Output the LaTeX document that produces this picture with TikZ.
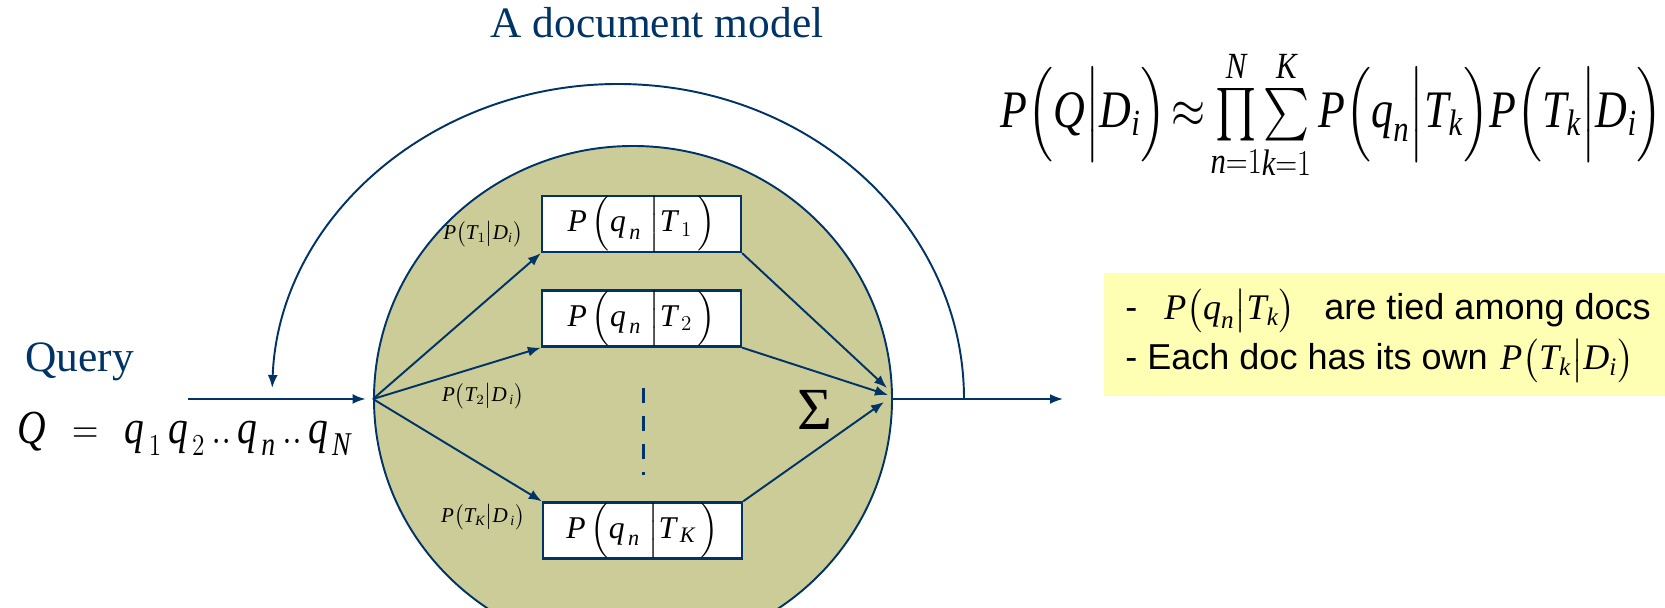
\documentclass[tikz,border=0pt]{standalone}
\usepackage{amsmath}
\usepackage{graphicx}
\usepackage{fontspec}
\setmainfont{Liberation Serif}
\newfontfamily\arialfont{Liberation Sans}
\usepackage{xcolor}
\usetikzlibrary{shapes.geometric,arrows.meta}
\definecolor{navy}{RGB}{0,51,102}
\definecolor{khaki}{RGB}{204,204,153}
\definecolor{paleyellow}{RGB}{255,255,179}
\newcommand{\iv}[1]{\text{\normalfont\itshape #1}}
\newcommand{\tall}[1]{\scalebox{1}[1.2]{#1}}

\begin{document}
\begin{tikzpicture}[x=0.2mm,y=0.2mm,
  link/.style={navy,line width=1.1pt,-{Latex[length=2.6mm,width=2mm]}},
  probbox/.style={draw=navy,line width=1.3pt,fill=white,minimum width=39.8mm,minimum height=11.2mm,inner sep=0pt,font=\fontsize{18}{22}\selectfont},
  weight/.style={inner sep=0pt,font=\fontsize{12}{14}\selectfont},
  heading/.style={text=navy,inner sep=0pt,anchor=base west,font=\fontsize{24.7}{30}\selectfont},
  tiedtext/.style={anchor=base west,inner sep=0pt,font=\arialfont\fontsize{20.5}{24}\selectfont}]
\useasboundingbox (0,0) rectangle (1665,607);
\clip (0,0) rectangle (1665,607);
%\draw[help lines,step=50](0,0)grid(1665,607);

\node[heading,anchor=base] (title) at (657,569) {A document model};
\node[heading] (query) at (25,235) {Query};
\node[anchor=base west,inner sep=0pt,font=\fontsize{22.5}{26}\selectfont] (qseq) at (17,163)
  {\tall{$\iv{Q}\;\,=\;\,\iv{q}_{\,1}\,\iv{q}_{\,2}\,..\,\iv{q}_{\,\iv{n}}\,..\,\iv{q}_{\,\iv{N}}$}};

% the document
\node[ellipse,draw=navy,line width=1.1pt,fill=khaki,minimum width=103.6mm,minimum height=101.2mm,inner sep=0pt] (doc) at (633,208) {};

\node[probbox] (b1) at (641.5,383) {$\iv{P}\,\Bigl(\iv{q}_{\,\iv{n}}\;\Big|\iv{T}_{\,1}\,\Bigr)$};
\node[probbox] (b2) at (641.5,288.5) {$\iv{P}\,\Bigl(\iv{q}_{\,\iv{n}}\;\Big|\iv{T}_{\,2}\,\Bigr)$};
\node[probbox] (bk) at (642.5,76.5) {$\iv{P}\,\Bigl(\iv{q}_{\,\iv{n}}\;\Big|\iv{T}_{\,\iv{K}}\,\Bigr)$};

\node[weight] (w1) at (483,373) {$\iv{P}\bigl(\iv{T}_1\big|\iv{D}_{\iv{i}}\bigr)$};
\node[weight] (w2) at (483,211) {$\iv{P}\bigl(\iv{T}_2\big|\iv{D}_{\,\iv{i}}\bigr)$};
\node[weight] (wk) at (483,90) {$\iv{P}\bigl(\iv{T}_{\iv{K}}\big|\iv{D}_{\,\iv{i}}\bigr)$};

\coordinate (dtop) at (643,219);
\coordinate (dbot) at (643,132);
\draw[navy,line width=0.6mm,dash pattern=on 3mm off 2.6mm] (dtop) -- (dbot);
\node[inner sep=0pt,font=\fontsize{34}{40}\selectfont] (sigma) at (815,197) {Σ};

\draw[link] (doc.west) -- (b1.south west);
\draw[link] (doc.west) -- (b2.south west);
\draw[link] (doc.west) -- (bk.north west);
\coordinate (s1) at (887,219);
\coordinate (s2) at (888,212);
\coordinate (s3) at (884,205);
\draw[link] (b1.south east) -- (s1);
\draw[link] (b2.south east) -- (s2);
\draw[link] (bk.north east) -- (s3);

% in, out and back
\coordinate (qin) at (188,208);
\coordinate (qout) at (1063,208);
\coordinate (turn) at (964,208);
\draw[link,shorten >=1.5mm] (qin) -- (doc.west);
\draw[link] (doc.east) -- (qout);
\draw[link] (turn) arc[start angle=0,end angle=178,x radius=346,y radius=315];

\node[anchor=base west,inner sep=0pt,font=\fontsize{25}{30}\selectfont] (model) at (1000,479)
  {\tall{$\iv{P}\Bigl(\iv{Q}\Big|\iv{D}_{\iv{i}}\Bigr)\!\approx\!\prod\limits_{\iv{n}=1}^{\iv{N}}\!\sum\limits_{\iv{k}=1}^{\iv{K}}\iv{P}\Bigl(\iv{q}_{\iv{n}}\Big|\iv{T}_{\iv{k}}\Bigr)\iv{P}\Bigl(\iv{T}_{\iv{k}}\Big|\iv{D}_{\iv{i}}\Bigr)$}};

\node[fill=paleyellow,anchor=south west,minimum width=112.2mm,minimum height=24.6mm,inner sep=0pt] (note) at (1104,211) {};
\node[tiedtext] (tied) at (1125,287)
  {-\hspace{0.75em}$\iv{P}\bigl(\iv{q}_{\iv{n}}\big|\iv{T}_{\iv{k}}\bigr)$\hspace{0.8em}are tied among docs};
\node[tiedtext] (own) at (1125,237)
  {- Each doc has its own\hspace{0.35em}$\iv{P}\bigl(\iv{T}_{\iv{k}}\big|\iv{D}_{\iv{i}}\bigr)$};
\end{tikzpicture}
\end{document}
